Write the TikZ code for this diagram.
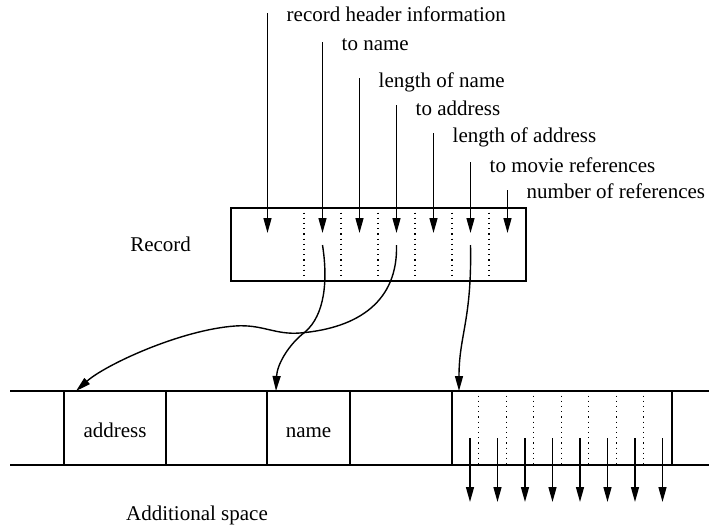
\documentclass[tikz,border=0pt]{standalone}
\usepackage{fontspec}
\setmainfont{Liberation Serif}
\usetikzlibrary{arrows.meta, positioning}

\begin{document}
\begin{tikzpicture}[x=0.5pt, y=-0.5pt, line width=0.7pt,
    font=\fontsize{10.5}{12}\selectfont,
    ptr/.style={-{Triangle[length=7.5pt, width=4pt]}},
    field/.style={draw, rectangle, minimum height=37pt, inner sep=0pt,
        text height=10pt, text depth=1pt},
    sep/.style={line width=0.6pt, dash pattern=on 0.6pt off 2pt},
    lbl/.style={anchor=base west, inner sep=0pt}]
    \useasboundingbox (0,0) rectangle (714,526);
    % Record and its fields
    \node (rec) [field, minimum width=147.5pt, minimum height=36.5pt] at (378.5,244.5) {};
    \node (reclabel) [left=16pt of rec] {Record};
    \foreach \x in {304,341,...,489}
        \draw[sep] (rec.north -| \x,0) -- (rec.south -| \x,0);
    \foreach \n/\x/\top/\base/\txt in {1/267.5/13/21/record header information,
        2/322.5/42/50/to name, 3/359.5/78/87/length of name,
        4/396.5/105/115/to address, 5/433.5/133/142/length of address,
        6/470.5/162/172/to movie references, 7/507.5/190/198/number of references} {
        \node (lab\n) [lbl] at (\x+18.5,\base) {\txt};
        \coordinate (top\n) at (\x,\top);
        \coordinate (in\n) at (\x,233);
        \coordinate (from\n) at (\x,245);
        \draw[ptr] (top\n) -- (in\n);
    }
    % Additional space
    \draw (10,391) -- (709,391);
    \draw (10,465) -- (709,465);
    \node (addr) [field, minimum width=51pt] at (115,428) {address};
    \node (name) [field, minimum width=41.5pt] at (308.5,428) {name};
    \node (refs) [field, minimum width=110pt] at (562,428) {};
    \draw (166,391) -- (166,465);
    \foreach \i in {1,...,7}
        \draw[sep] ([xshift=\i*13.75pt]refs.north west) -- ([xshift=\i*13.75pt]refs.south west);
    \foreach \i in {0,...,7} {
        \coordinate (out\i) at (470+27.5*\i,438);
        \coordinate (end\i) at (470+27.5*\i,502);
        \draw[ptr] (out\i) -- (end\i);
    }
    \node (addspace) at (197,515) {Additional space};
    % pointers into the additional space
    \coordinate (addrin) at (76,391);
    \coordinate (namein) at (276,391);
    \coordinate (refsin) at (459,391);
    \draw[ptr] (from2) .. controls (328,280) and (325,315) .. (305,332)
        .. controls (288,345) and (277,365) .. (namein);
    \draw[ptr] (from4) .. controls (398,300) and (360,328) .. (300,333)
        .. controls (275,335) and (262,324) .. (235,326)
        .. controls (180,330) and (105,365) .. (addrin);
    \draw[ptr] (from6) .. controls (472,320) and (459,335) .. (refsin);
\end{tikzpicture}
\end{document}
